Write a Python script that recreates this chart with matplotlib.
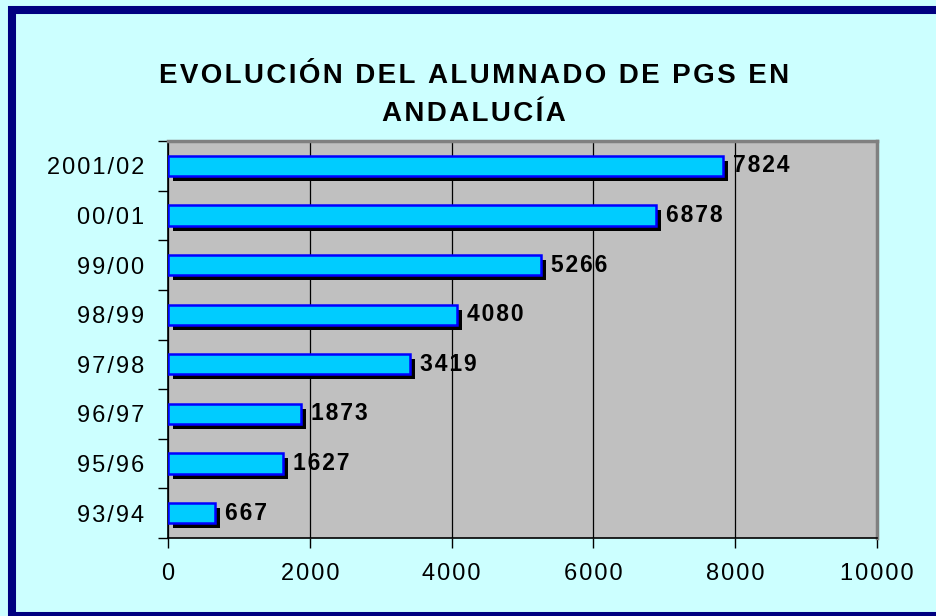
import matplotlib
matplotlib.use('Agg')
import matplotlib.pyplot as plt
from matplotlib.patches import Rectangle
from matplotlib.transforms import ScaledTranslation, offset_copy

# datos del gráfico
cursos = ['93/94', '95/96', '96/97', '97/98', '98/99', '99/00', '00/01', '2001/02']
alumnos = [667, 1627, 1873, 3419, 4080, 5266, 6878, 7824]
x_ticks = [0, 2000, 4000, 6000, 8000, 10000]
titulo = 'EVOLUCIÓN DEL ALUMNADO DE PGS EN\nANDALUCÍA'

plt.rcParams['font.family'] = ['Liberation Sans', 'DejaVu Sans']


def spaced(s, sep='\u200a'):
    # imitar el espaciado entre letras del original
    return '\n'.join(sep.join(line) for line in s.split('\n'))


W, H = 937, 616
fig = plt.figure(figsize=(W / 100, H / 100), dpi=100)
fig.patch.set_facecolor('#CCFFFF')

# marco azul marino
fig.patches.append(Rectangle((12 / W, 0.5 / H), 1.2, (H - 10 - 0.5) / H,
                             transform=fig.transFigure, fill=False,
                             edgecolor='#000080', lw=5.8, clip_on=False))

ax = fig.add_axes([168 / W, (H - 538) / H, (877 - 168) / W, (538 - 141) / H])
ax.set_facecolor('#C0C0C0')

y = list(range(len(cursos)))
h = 0.41

# sombra de las barras
shadow_tr = ax.transData + ScaledTranslation(5 / 100, -5 / 100, fig.dpi_scale_trans)
ax.barh(y, alumnos, height=h, color='black', transform=shadow_tr, zorder=2)
ax.barh(y, alumnos, height=h, color='#00CCFF', edgecolor='#0000FF', lw=1.8, zorder=3)

lab_tr = offset_copy(ax.transData, fig=fig, x=10, y=0, units='dots')
for yi, v in zip(y, alumnos):
    ax.text(v, yi, spaced(str(v)), transform=lab_tr, ha='left', va='center',
            fontsize=16.5, fontweight='bold', color='black', zorder=4)

ax.set_xlim(0, 10000)
ax.set_ylim(-0.5, len(cursos) - 0.5)
ax.set_xticks(x_ticks)
ax.set_xticklabels([spaced(str(t)) for t in x_ticks], fontsize=17)
ax.set_yticks([i - 0.5 for i in range(len(cursos) + 1)], minor=False)
ax.set_yticklabels([])
ax.set_yticks(y, minor=True)
ax.set_yticklabels([spaced(c) for c in cursos], minor=True, fontsize=17)
ax.tick_params(axis='y', which='minor', length=0, pad=17)
ax.tick_params(axis='y', which='major', length=7, width=1, direction='out')
ax.tick_params(axis='x', length=7, width=1, direction='out', pad=11)

ax.grid(axis='x', color='black', lw=0.9, zorder=1)
ax.set_axisbelow(True)

for side in ['top', 'right']:
    ax.spines[side].set_color('#808080')
    ax.spines[side].set_linewidth(2.5)
for side in ['left', 'bottom']:
    ax.spines[side].set_color('black')
    ax.spines[side].set_linewidth(1.2)

fig.text(474 / W, 1 - 95 / H, spaced(titulo), ha='center', va='center',
         fontsize=20, fontweight='bold', linespacing=1.6)

fig.savefig('out.png', dpi=100, facecolor=fig.get_facecolor())
